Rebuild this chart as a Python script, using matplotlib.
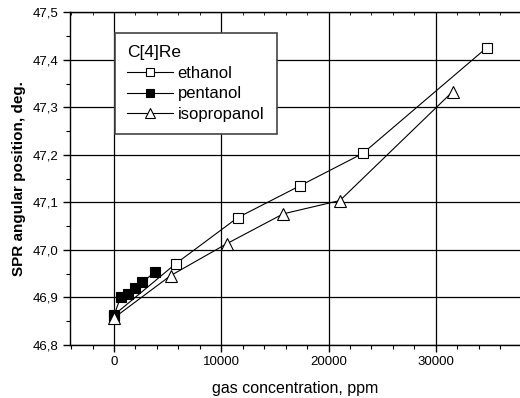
import matplotlib
matplotlib.use("Agg")
import matplotlib.pyplot as plt
from matplotlib.ticker import MultipleLocator, FuncFormatter, NullFormatter

plt.rcParams["font.family"] = ["Liberation Sans", "DejaVu Sans"]

# data
ethanol_x = [0, 5750, 11530, 17330, 23180, 34760]
ethanol_y = [46.863, 46.971, 47.068, 47.135, 47.203, 47.426]

pentanol_x = [0, 620, 1280, 1960, 2640, 3850]
pentanol_y = [46.862, 46.901, 46.907, 46.920, 46.932, 46.954]

isoprop_x = [0, 5280, 10500, 15780, 21060, 31560]
isoprop_y = [46.857, 46.946, 47.013, 47.076, 47.104, 47.333]

x_ticks = [0, 10000, 20000, 30000]

fig = plt.figure(figsize=(5.2, 3.98), dpi=100)
ax = fig.add_axes([0.1346, 0.1332, 0.8654, 0.8358])

ax.plot(ethanol_x, ethanol_y, color="black", lw=0.8, marker="s", ms=7,
        mfc="white", mec="black", mew=0.8, label="ethanol", zorder=3)
ax.plot(pentanol_x, pentanol_y, color="black", lw=0.8, marker="s", ms=7,
        mfc="black", mec="black", mew=0.8, label="pentanol", zorder=4)
ax.plot(isoprop_x, isoprop_y, color="black", lw=0.8, marker="^", ms=9,
        mfc="white", mec="black", mew=0.8, label="isopropanol", zorder=5)

ax.set_xlim(-4100, 37840)
ax.set_ylim(46.8, 47.5)
ax.set_xticks(x_ticks)
ax.xaxis.set_minor_locator(MultipleLocator(2000))
ax.yaxis.set_major_locator(MultipleLocator(0.1))
ax.yaxis.set_minor_locator(MultipleLocator(0.05))
ax.yaxis.set_major_formatter(FuncFormatter(lambda v, p: f"{v:.1f}".replace(".", ",")))

ax.grid(True, which="major", color="black", lw=0.9)
ax.set_axisbelow(True)

ax.spines["right"].set_visible(False)
for s in ["left", "bottom", "top"]:
    ax.spines[s].set_linewidth(1.0)
ax.tick_params(which="major", direction="out", length=5, width=1, labelsize=9.5, pad=3)
ax.tick_params(which="minor", direction="out", length=3, width=0.8)

# small inward ticks on the top edge
top = ax.secondary_xaxis("top")
top.set_xticks(x_ticks)
top.xaxis.set_minor_locator(MultipleLocator(2000))
top.xaxis.set_major_formatter(NullFormatter())
top.tick_params(which="both", direction="in", length=2, width=0.6)
top.spines["top"].set_visible(False)

ax.set_xlabel("gas concentration, ppm", fontsize=11.5, labelpad=9)
ax.set_ylabel("SPR angular position, deg.", fontsize=11, fontweight="bold", labelpad=5)

leg = ax.legend(title="C[4]Re", loc="upper left", bbox_to_anchor=(0.10, 0.938),
                fontsize=12, title_fontsize=12.5, frameon=True, fancybox=False,
                handlelength=2.75, handletextpad=0.25, borderpad=0.75,
                labelspacing=0.33, framealpha=1, borderaxespad=0, markerscale=0.8)
leg._legend_box.align = "left"
leg.get_frame().set_edgecolor("#444444")
leg.get_frame().set_linewidth(1.2)

fig.savefig("out.png", dpi=100)
